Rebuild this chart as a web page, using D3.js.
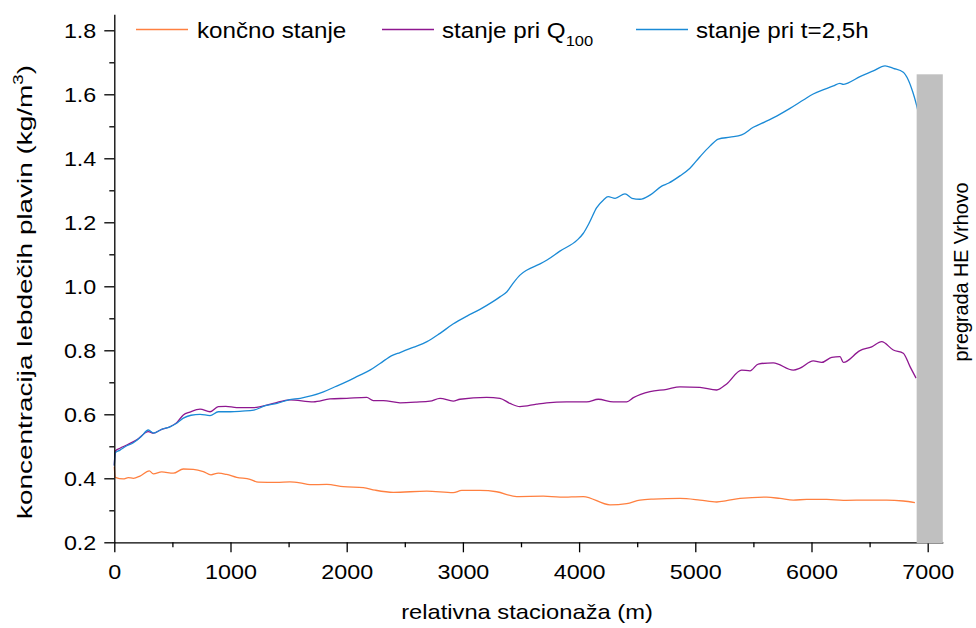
<!DOCTYPE html>
<html>
<head>
<meta charset="utf-8">
<script src="https://cdn.jsdelivr.net/npm/d3@7"></script>
<style>
  body { margin: 0; background: #fff; }
  text { font-family: "Liberation Sans", Arial, sans-serif; fill: #000; }
</style>
</head>
<body>
<svg id="chart" width="976" height="628"></svg>
<script>
// ---- data ----
const seriesNames = ["končno stanje", "stanje pri Q", "stanje pri t=2,5h"];
const seriesColors = ["#ff8040", "#8e1790", "#1a8ad6"];

const xKoncno = [0, 8, 77, 120, 164, 221, 301, 336, 408, 508, 594, 680, 766, 832, 895, 967, 1053, 1168, 1239, 1398, 1512, 1598, 1684, 1828, 1971, 2143, 2244, 2401, 2689, 2917, 2990, 3147, 3291, 3463, 3692, 3836, 4036, 4266, 4410, 4524, 4639, 4868, 5040, 5184, 5270, 5385, 5614, 5729, 5843, 5959, 6131, 6274, 6503, 6647, 6790, 6890];
const yKoncno = [0.436, 0.403, 0.398, 0.402, 0.400, 0.407, 0.423, 0.414, 0.420, 0.416, 0.429, 0.428, 0.421, 0.411, 0.416, 0.412, 0.403, 0.397, 0.388, 0.387, 0.389, 0.386, 0.380, 0.381, 0.374, 0.371, 0.363, 0.356, 0.360, 0.355, 0.362, 0.362, 0.358, 0.343, 0.344, 0.341, 0.343, 0.317, 0.321, 0.332, 0.335, 0.337, 0.332, 0.326, 0.330, 0.337, 0.341, 0.337, 0.332, 0.334, 0.334, 0.331, 0.332, 0.332, 0.329, 0.324];

const xQ100 = [0, 8, 49, 107, 193, 293, 336, 408, 479, 537, 594, 651, 738, 824, 895, 960, 1053, 1196, 1368, 1512, 1713, 1856, 2000, 2172, 2229, 2315, 2459, 2600, 2717, 2803, 2917, 2975, 3205, 3319, 3405, 3491, 3635, 3721, 3893, 4066, 4165, 4294, 4410, 4467, 4610, 4754, 4868, 5040, 5184, 5270, 5399, 5471, 5542, 5671, 5843, 5901, 6015, 6088, 6174, 6245, 6274, 6417, 6518, 6604, 6704, 6790, 6848, 6900];
const yQ100 = [0.440, 0.485, 0.494, 0.504, 0.520, 0.546, 0.541, 0.553, 0.561, 0.574, 0.598, 0.607, 0.616, 0.608, 0.624, 0.625, 0.621, 0.621, 0.634, 0.645, 0.639, 0.648, 0.650, 0.653, 0.643, 0.643, 0.636, 0.638, 0.641, 0.650, 0.641, 0.647, 0.653, 0.650, 0.634, 0.624, 0.632, 0.636, 0.639, 0.639, 0.647, 0.639, 0.639, 0.652, 0.671, 0.678, 0.686, 0.684, 0.676, 0.695, 0.738, 0.736, 0.757, 0.761, 0.738, 0.744, 0.767, 0.762, 0.778, 0.780, 0.762, 0.799, 0.811, 0.827, 0.801, 0.791, 0.749, 0.713];

const xT25 = [0, 8, 49, 100, 164, 230, 293, 336, 408, 479, 537, 594, 660, 738, 824, 895, 1000, 1100, 1200, 1300, 1400, 1500, 1600, 1700, 1800, 1900, 2000, 2100, 2200, 2287, 2398, 2459, 2571, 2691, 2803, 2915, 3035, 3147, 3258, 3319, 3379, 3431, 3491, 3552, 3664, 3724, 3835, 3985, 4035, 4090, 4150, 4210, 4250, 4310, 4395, 4455, 4524, 4610, 4711, 4768, 4868, 4954, 5040, 5126, 5198, 5299, 5399, 5499, 5600, 5700, 5815, 5930, 6015, 6116, 6188, 6245, 6274, 6317, 6417, 6532, 6633, 6704, 6790, 6833, 6871, 6900, 6915];
const yT25 = [0.440, 0.480, 0.488, 0.500, 0.511, 0.530, 0.551, 0.541, 0.553, 0.561, 0.572, 0.588, 0.597, 0.600, 0.596, 0.608, 0.608, 0.610, 0.613, 0.627, 0.634, 0.645, 0.650, 0.658, 0.670, 0.686, 0.702, 0.720, 0.738, 0.759, 0.785, 0.793, 0.809, 0.827, 0.853, 0.882, 0.907, 0.928, 0.952, 0.967, 0.983, 1.009, 1.035, 1.051, 1.070, 1.082, 1.110, 1.145, 1.165, 1.200, 1.245, 1.270, 1.280, 1.275, 1.289, 1.275, 1.272, 1.285, 1.313, 1.322, 1.345, 1.369, 1.405, 1.438, 1.460, 1.466, 1.473, 1.497, 1.514, 1.532, 1.556, 1.582, 1.601, 1.616, 1.626, 1.634, 1.631, 1.636, 1.655, 1.673, 1.689, 1.681, 1.669, 1.645, 1.608, 1.572, 1.550];

const xTicksMajor = [0, 1000, 2000, 3000, 4000, 5000, 6000, 7000];
const xTicksMinor = [500, 1500, 2500, 3500, 4500, 5500, 6500];
const yTicksMajor = [0.2, 0.4, 0.6, 0.8, 1.0, 1.2, 1.4, 1.6, 1.8];
const yTicksMinor = [0.3, 0.5, 0.7, 0.9, 1.1, 1.3, 1.5, 1.7];

const damX = [6905, 7130];   // dam (gray block) extent in x
const damY = [0.2, 1.6625];  // dam extent in y

const xTitle = "relativna stacionaža (m)";
const yTitle = "koncentracija lebdečih plavin (kg/m";
const damLabel = "pregrada HE Vrhovo";

// ---- chart ----
const svg = d3.select("#chart");
const x = d3.scaleLinear().domain([0, 7130]).range([114.3, 942.8]);
const y = d3.scaleLinear().domain([0.2, 1.85]).range([542.3, 14.3]);

const series = [
  { name: seriesNames[0], color: seriesColors[0], xs: xKoncno, ys: yKoncno },
  { name: seriesNames[1], color: seriesColors[1], xs: xQ100, ys: yQ100 },
  { name: seriesNames[2], color: seriesColors[2], xs: xT25, ys: yT25 }
];

const line = d3.line().x(d => x(d[0])).y(d => y(d[1])).curve(d3.curveMonotoneX);

series.forEach(s => {
  svg.append("path")
    .datum(d3.zip(s.xs, s.ys))
    .attr("fill", "none")
    .attr("stroke", s.color)
    .attr("stroke-width", 1.3)
    .attr("d", line);
});

// axes
const fontSize = 21;
svg.append("g").attr("transform", `translate(0,${y(0.2)})`)
  .call(d3.axisBottom(x).tickValues(xTicksMajor).tickSize(10).tickSizeOuter(0).tickPadding(12).tickFormat(d3.format("d")));
svg.append("g").attr("transform", `translate(0,${y(0.2)})`)
  .call(d3.axisBottom(x).tickValues(xTicksMinor).tickSize(5).tickSizeOuter(0).tickFormat(""))
  .select(".domain").remove();

svg.append("g").attr("transform", `translate(${x(0)},0)`)
  .call(d3.axisLeft(y).tickValues(yTicksMajor).tickSize(10).tickSizeOuter(0).tickPadding(8).tickFormat(d3.format(".1f")));
svg.append("g").attr("transform", `translate(${x(0)},0)`)
  .call(d3.axisLeft(y).tickValues(yTicksMinor).tickSize(5).tickSizeOuter(0).tickFormat(""))
  .select(".domain").remove();

svg.selectAll(".domain, .tick line").attr("stroke", "#000").attr("stroke-width", 1.3);
svg.selectAll(".tick text")
  .style("font-family", '"Liberation Sans", Arial, sans-serif')
  .style("font-size", fontSize + "px").attr("fill", "#000")
  .each(function () {
    const w = this.getComputedTextLength();
    d3.select(this).attr("textLength", w * 1.11).attr("lengthAdjust", "spacingAndGlyphs");
  });

// dam block (drawn over the axis line)
svg.append("rect")
  .attr("x", x(damX[0])).attr("y", y(damY[1]))
  .attr("width", x(damX[1]) - x(damX[0]))
  .attr("height", y(damY[0]) - y(damY[1]) + 1)
  .attr("fill", "#c0c0c0");

// axis titles
svg.append("text").attr("transform", "translate(527,619) scale(1.13,1)").attr("text-anchor", "middle")
  .style("font-size", "21px").text(xTitle);

const yt = svg.append("text").attr("transform", "translate(32,292) rotate(-90) scale(1.33,1)")
  .attr("text-anchor", "middle").style("font-size", "21px");
yt.append("tspan").text(yTitle);
yt.append("tspan").attr("dy", -9).style("font-size", "14px").text("3");
yt.append("tspan").attr("dy", 9).text(")");

svg.append("text").attr("transform", "translate(968,272) rotate(-90) scale(0.94,1)")
  .attr("text-anchor", "middle").style("font-size", "21px").text(damLabel);

// legend
const legendPos = [
  { x1: 136, x2: 188, tx: 197 },
  { x1: 382, x2: 434, tx: 442 },
  { x1: 636, x2: 688, tx: 696 }
];
series.forEach((s, i) => {
  const p = legendPos[i];
  svg.append("line").attr("x1", p.x1).attr("x2", p.x2).attr("y1", 29.5).attr("y2", 29.5)
    .attr("stroke", s.color).attr("stroke-width", 1.3);
  const t = svg.append("text").attr("transform", `translate(${p.tx},38) scale(1.1,1)`)
    .style("font-size", "22px");
  t.append("tspan").text(s.name);
  if (i === 1) {
    t.append("tspan").attr("dy", 8).style("font-size", "15px").text("100");
  }
});
</script>
</body>
</html>
